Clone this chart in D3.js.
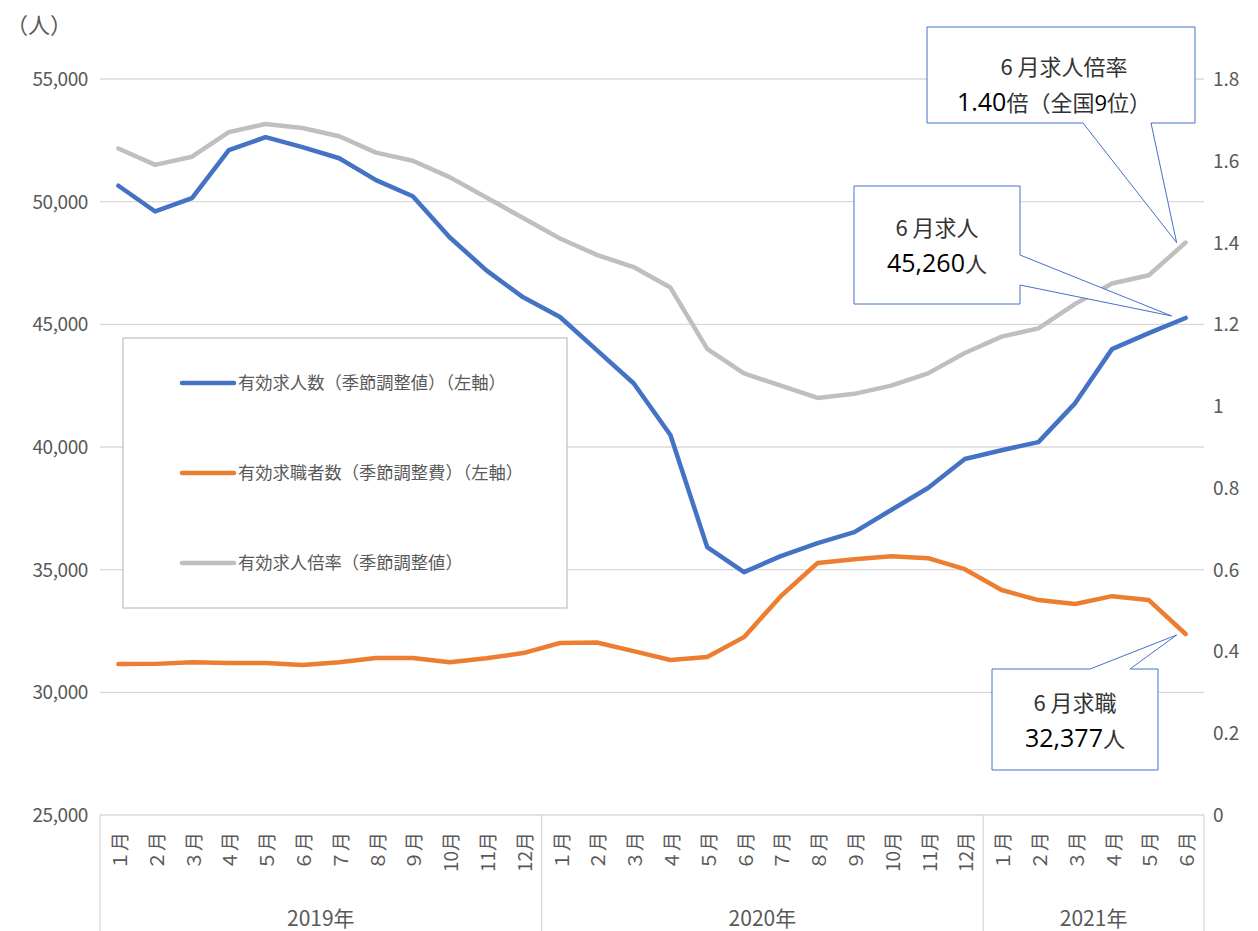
<!DOCTYPE html>
<html>
<head>
<meta charset="utf-8">
<script src="https://cdn.jsdelivr.net/npm/d3@7"></script>
<style>
  body { margin: 0; background: #fff; }
  text { font-family: "Noto Sans CJK JP", "Noto Sans", sans-serif; fill: #595959; }
</style>
</head>
<body>
<svg width="1258" height="931"></svg>
<script>
const years = ["2019年", "2020年", "2021年"];
const monthsPerYear = [12, 12, 6];
const monthLabels = ["１月","２月","３月","４月","５月","６月","７月","８月","９月","10月","11月","12月"];

// 有効求人数（季節調整値）
const openings = [50650, 49600, 50140, 52100, 52630, 52220, 51770, 50880, 50220, 48550, 47200, 46100,
                  45300, 43950, 42600, 40490, 35920, 34900, 35550, 36080, 36530, 37430, 38330, 39510,
                  39870, 40200, 41790, 43990, 44640, 45260];
// 有効求職者数（季節調整値）
const seekers = [31150, 31160, 31230, 31200, 31200, 31110, 31230, 31400, 31400, 31230, 31390, 31600,
                 32010, 32030, 31680, 31320, 31440, 32250, 33920, 35270, 35420, 35550, 35470, 35020,
                 34170, 33760, 33600, 33920, 33760, 32377];
// 有効求人倍率（季節調整値）
const ratio = [1.63, 1.59, 1.61, 1.67, 1.69, 1.68, 1.66, 1.62, 1.60, 1.56, 1.51, 1.46,
               1.41, 1.37, 1.34, 1.29, 1.14, 1.08, 1.05, 1.02, 1.03, 1.05, 1.08, 1.13,
               1.17, 1.19, 1.25, 1.30, 1.32, 1.40];

const leftTicks = [25000, 30000, 35000, 40000, 45000, 50000, 55000];
const rightTicks = [0, 0.2, 0.4, 0.6, 0.8, 1, 1.2, 1.4, 1.6, 1.8];
const seriesNames = ["有効求人数（季節調整値）（左軸）", "有効求職者数（季節調整費）（左軸）", "有効求人倍率（季節調整値）"];
const colors = ["#4472c4", "#ed7d31", "#bfbfbf"];

// category list
const cats = [];
years.forEach((y, yi) => {
  for (let m = 0; m < monthsPerYear[yi]; m++) cats.push({ year: y, yi: yi, m: m, key: y + m });
});

const svg = d3.select("svg");
const plotLeft = 100, plotRight = 1204, plotTop = 79, plotBottom = 815;

const x = d3.scaleBand().domain(cats.map(d => d.key)).range([plotLeft, plotRight]).padding(0);
const yL = d3.scaleLinear().domain([25000, 55000]).range([plotBottom, plotTop]);
const yR = d3.scaleLinear().domain([0, 1.8]).range([plotBottom, plotTop]);
const cx = i => x(cats[i].key) + x.bandwidth() / 2;

// gridlines
svg.append("g").selectAll("line").data(leftTicks).enter().append("line")
  .attr("x1", plotLeft).attr("x2", plotRight)
  .attr("y1", d => yL(d)).attr("y2", d => yL(d))
  .attr("stroke", "#d9d9d9").attr("stroke-width", 1.3);

// left axis labels
svg.append("g").selectAll("text").data(leftTicks).enter().append("text")
  .attr("x", 88).attr("y", d => yL(d) + 7)
  .attr("text-anchor", "end").attr("font-size", 19)
  .attr("letter-spacing", -0.4)
  .text(d3.format(","));

// right axis labels
svg.append("g").selectAll("text").data(rightTicks).enter().append("text")
  .attr("x", 1213).attr("y", d => yR(d) + 7)
  .attr("font-size", 19)
  .text(d => String(+d.toFixed(1)));

svg.append("text").attr("x", 6).attr("y", 33).attr("font-size", 22).text("（人）");

// category separators
let bounds = [0];
monthsPerYear.reduce((acc, n) => { bounds.push(acc + n); return acc + n; }, 0);
const bx = b => b < cats.length ? x(cats[b].key) : plotRight;
svg.append("g").selectAll("line").data(bounds).enter().append("line")
  .attr("x1", bx).attr("x2", bx)
  .attr("y1", plotBottom).attr("y2", 931)
  .attr("stroke", "#d9d9d9").attr("stroke-width", 1.3);

// month labels
svg.append("g").selectAll("text").data(cats).enter().append("text")
  .attr("transform", (d, i) => `translate(${cx(i)},832) rotate(-90)`)
  .attr("text-anchor", "end").attr("dominant-baseline", "central")
  .attr("font-size", 19)
  .text(d => monthLabels[d.m]);

// year labels
svg.append("g").selectAll("text").data(years).enter().append("text")
  .attr("x", (d, i) => (bx(bounds[i]) + bx(bounds[i + 1])) / 2)
  .attr("y", 926).attr("text-anchor", "middle").attr("font-size", 21)
  .text(d => d);

// lines
const series = [
  { values: openings, scale: yL },
  { values: seekers, scale: yL },
  { values: ratio, scale: yR }
];
series.forEach((s, si) => {
  const line = d3.line().x((d, i) => cx(i)).y(d => s.scale(d));
  svg.append("path").datum(s.values)
    .attr("d", line)
    .attr("fill", "none")
    .attr("stroke", colors[si])
    .attr("stroke-width", 4.5)
    .attr("stroke-linejoin", "round")
    .attr("stroke-linecap", "round");
});

// legend
const lg = svg.append("g");
lg.append("rect").attr("x", 123).attr("y", 338).attr("width", 444).attr("height", 270)
  .attr("fill", "#fff").attr("stroke", "#bfbfbf").attr("stroke-width", 1.2);
seriesNames.forEach((name, i) => {
  const ly = 383 + i * 90;
  lg.append("line").attr("x1", 182).attr("x2", 234).attr("y1", ly).attr("y2", ly)
    .attr("stroke", colors[i]).attr("stroke-width", 4.5).attr("stroke-linecap", "round");
  lg.append("text").attr("x", 238).attr("y", ly + 6).attr("font-size", 17.3).text(name);
});

// callouts
const last = cats.length - 1;
function callout(pathD, lines) {
  const g = svg.append("g");
  g.append("path").attr("d", pathD).attr("fill", "#fff")
    .attr("stroke", "#4472c4").attr("stroke-width", 1);
  lines.forEach(l => {
    const t = g.append("text").attr("x", l.x).attr("y", l.y)
      .attr("text-anchor", "middle").attr("font-size", 22).style("fill", "#222");
    l.parts.forEach(p => {
      t.append("tspan").text(p.t)
        .attr("font-size", p.size || 22)
        .attr("font-family", p.num ? "'Open Sans', 'Noto Sans', sans-serif" : null)
        .attr("font-weight", p.num ? 500 : null)
        .style("fill", p.num ? "#000" : "#333");
    });
  });
}

const tip1 = [cx(last) - 9, yR(ratio[last])];
callout(`M927,27 H1195 V123 H1151 L${tip1[0]},${tip1[1]} L1083,123 H927 Z`, [
  { x: 1064, y: 75, parts: [{ t: "6 月求人倍率" }] },
  { x: 1054, y: 111, parts: [{ t: "1.40", num: true, size: 25 }, { t: "倍（全国" }, { t: "9", num: true, size: 22 }, { t: "位）" }] }
]);

const tip2 = [cx(last) - 14, yL(openings[last]) - 2];
callout(`M854,186 H1020 V255 L${tip2[0]},${tip2[1]} L1020,285 V304 H854 Z`, [
  { x: 937, y: 236, parts: [{ t: "6 月求人" }] },
  { x: 937, y: 272, parts: [{ t: "45,260", num: true, size: 25 }, { t: "人" }] }
]);

const tip3 = [cx(last) - 9, yL(seekers[last]) + 1];
callout(`M992,669 H1090 L${tip3[0]},${tip3[1]} L1130,669 H1158 V770 H992 Z`, [
  { x: 1075, y: 711, parts: [{ t: "6 月求職" }] },
  { x: 1075, y: 747, parts: [{ t: "32,377", num: true, size: 25 }, { t: "人" }] }
]);
</script>
</body>
</html>
